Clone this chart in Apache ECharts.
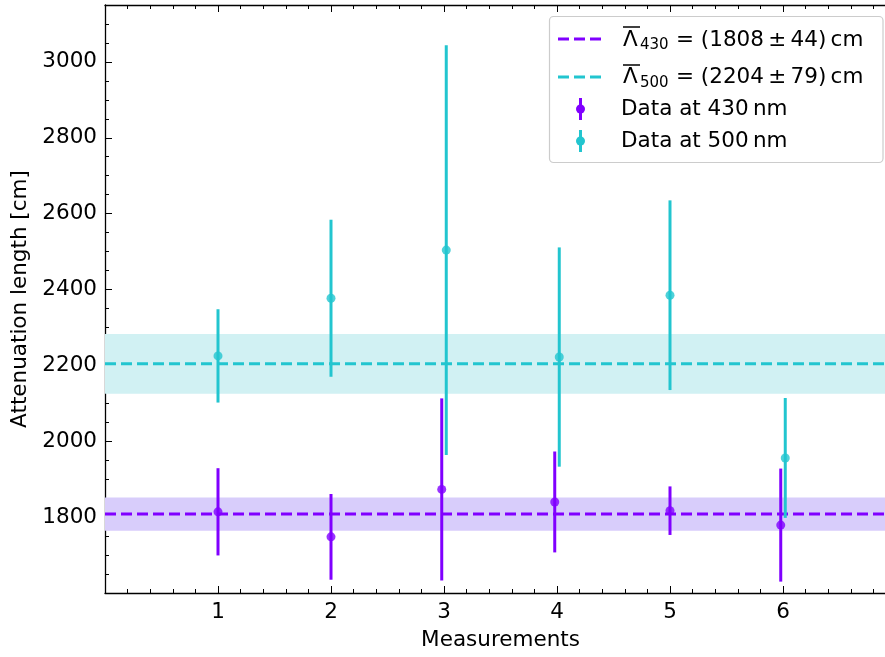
<!DOCTYPE html>
<html><head><meta charset="utf-8">
<script src="https://cdn.jsdelivr.net/npm/echarts@6/dist/echarts.min.js"></script>
<style>html,body{margin:0;padding:0;background:#fff}#c{width:885px;height:657px}</style>
</head><body><div id="c"></div>
<script>
// ---- data ----
const x430 = [1, 2, 2.98, 3.98, 5, 5.98];
const val430 = [1814, 1748, 1873, 1840, 1817, 1779];
const err430 = [115, 113, 240, 133, 64, 149];
const x500 = [1, 2, 3.02, 4.02, 5, 6.02];
const val500 = [2225, 2377, 2504, 2222, 2385, 1956];
const err500 = [123, 207, 540, 289, 250, 158];
const mean430 = 1808, sigma430 = 44;
const mean500 = 2204, sigma500 = 79;
const xRange = [0, 7];
const yRange = [1600, 3150];

const C430 = '#8000ff';
const C500 = '#22c5cf';
const F = 'DejaVu Sans';
const FS = 21.5;

const d430 = x430.map((x, i) => [x, val430[i], err430[i]]);
const d500 = x500.map((x, i) => [x, val500[i], err500[i]]);

function errRender(color) {
  return function (params, api) {
    const x = api.value(0), y = api.value(1), e = api.value(2);
    const p1 = api.coord([x, y + e]), p2 = api.coord([x, y - e]);
    return { type: 'line', shape: { x1: p1[0], y1: p1[1], x2: p2[0], y2: p2[1] },
      style: { stroke: color, lineWidth: 3 } };
  };
}

const axisCommon = {
  axisLine: { show: true, onZero: false, lineStyle: { color: '#000', width: 1.3 } },
  splitLine: { show: false },
};

const chart = echarts.init(document.getElementById('c'), null, { renderer: 'canvas' });
const option = {
  animation: false,
  backgroundColor: '#fff',
  grid: { left: 105, top: 5, width: 791, height: 588, containLabel: false, outerBoundsMode: 'none' },
  xAxis: [
    Object.assign({
      type: 'value', min: xRange[0], max: xRange[1], interval: 1, position: 'bottom',
      name: 'Measurements', nameLocation: 'middle', nameGap: 36,
      nameTextStyle: { fontFamily: F, fontSize: FS, color: '#000' },
      axisTick: { show: true, inside: true, length: 7, lineStyle: { color: '#000', width: 1 } },
      minorTick: { show: true, splitNumber: 5, length: 4, lineStyle: { color: '#000', width: 1 } },
      axisLabel: { fontFamily: F, fontSize: FS, color: '#000', margin: 8,
        formatter: v => (v === xRange[0] || v === xRange[1]) ? '' : String(v) },
    }, axisCommon),
    Object.assign({
      type: 'value', min: xRange[0], max: xRange[1], interval: 1, position: 'top',
      axisTick: { show: true, inside: true, length: 7, lineStyle: { color: '#000', width: 1 } },
      minorTick: { show: true, splitNumber: 5, length: 4, lineStyle: { color: '#000', width: 1 } },
      axisLabel: { show: false },
    }, axisCommon),
  ],
  yAxis: [
    Object.assign({
      type: 'value', min: yRange[0], max: yRange[1], interval: 200, position: 'left',
      name: 'Attenuation length [cm]', nameLocation: 'middle', nameGap: 70,
      nameTextStyle: { fontFamily: F, fontSize: FS, color: '#000' },
      axisTick: { show: true, inside: true, length: 7, lineStyle: { color: '#000', width: 1 } },
      minorTick: { show: true, splitNumber: 4, length: 4, lineStyle: { color: '#000', width: 1 } },
      axisLabel: { fontFamily: F, fontSize: FS, color: '#000', margin: 8, showMinLabel: false, showMaxLabel: false,
        formatter: v => String(v) },
    }, axisCommon),
    Object.assign({
      type: 'value', min: yRange[0], max: yRange[1], interval: 200, position: 'right',
      axisTick: { show: true, inside: true, length: 7, lineStyle: { color: '#000', width: 1 } },
      minorTick: { show: true, splitNumber: 4, length: 4, lineStyle: { color: '#000', width: 1 } },
      axisLabel: { show: false },
    }, axisCommon),
  ],
  series: [
    {
      type: 'line', name: 'mean430', xAxisIndex: 0, yAxisIndex: 0, z: 3,
      data: [[xRange[0], mean430], [xRange[1], mean430]], symbol: 'none',
      lineStyle: { color: C430, width: 3, type: [11, 5] },
      markArea: { silent: true, z: 1, itemStyle: { color: '#d8cdfb' },
        data: [[{ yAxis: mean430 - sigma430 }, { yAxis: mean430 + sigma430 }]] },
    },
    {
      type: 'line', name: 'mean500', xAxisIndex: 0, yAxisIndex: 0, z: 3,
      data: [[xRange[0], mean500], [xRange[1], mean500]], symbol: 'none',
      lineStyle: { color: C500, width: 3, type: [11, 5] },
      markArea: { silent: true, z: 1, itemStyle: { color: '#d1f1f3' },
        data: [[{ yAxis: mean500 - sigma500 }, { yAxis: mean500 + sigma500 }]] },
    },
    { type: 'custom', name: 'err430', z: 5, data: d430, renderItem: errRender(C430), encode: { x: 0, y: 1 } },
    { type: 'scatter', name: 'pt430', z: 6, data: d430, symbol: 'circle', symbolSize: 9,
      itemStyle: { color: C430 }, encode: { x: 0, y: 1 } },
    { type: 'custom', name: 'err500', z: 5, data: d500, renderItem: errRender(C500), encode: { x: 0, y: 1 } },
    { type: 'scatter', name: 'pt500', z: 6, data: d500, symbol: 'circle', symbolSize: 9,
      itemStyle: { color: C500 }, encode: { x: 0, y: 1 } },
  ],
  graphic: [
    { type: 'rect', z: 100, shape: { x: 549.5, y: 16.5, width: 333.5, height: 146, r: 4 },
      style: { fill: 'rgba(255,255,255,0.85)', stroke: '#cccccc', lineWidth: 1.2 } },
    // entry 1
    { type: 'line', z: 101, shape: { x1: 558, y1: 39, x2: 603, y2: 39 },
      style: { stroke: C430, lineWidth: 3, lineDash: [11, 5] } },
    { type: 'line', z: 101, shape: { x1: 623, y1: 27, x2: 640, y2: 27 }, style: { stroke: '#000', lineWidth: 1.5 } },
    { type: 'text', z: 101, x: 623, y: 40, style: { text: 'Λ', font: `${FS}px "${F}"`, fill: '#000', textVerticalAlign: 'middle' } },
    { type: 'text', z: 101, x: 640, y: 45, style: { text: '430', font: `15px "${F}"`, fill: '#000', textVerticalAlign: 'middle' } },
    { type: 'text', z: 101, x: 676, y: 40, style: { text: '= (1808\u2009±\u200944)\u2009cm', font: `${FS}px "${F}"`, fill: '#000', textVerticalAlign: 'middle' } },
    // entry 2
    { type: 'line', z: 101, shape: { x1: 558, y1: 77, x2: 603, y2: 77 },
      style: { stroke: C500, lineWidth: 3, lineDash: [11, 5] } },
    { type: 'line', z: 101, shape: { x1: 623, y1: 65, x2: 640, y2: 65 }, style: { stroke: '#000', lineWidth: 1.5 } },
    { type: 'text', z: 101, x: 623, y: 77, style: { text: 'Λ', font: `${FS}px "${F}"`, fill: '#000', textVerticalAlign: 'middle' } },
    { type: 'text', z: 101, x: 640, y: 83, style: { text: '500', font: `15px "${F}"`, fill: '#000', textVerticalAlign: 'middle' } },
    { type: 'text', z: 101, x: 676, y: 77, style: { text: '= (2204\u2009±\u200979)\u2009cm', font: `${FS}px "${F}"`, fill: '#000', textVerticalAlign: 'middle' } },
    // entry 3
    { type: 'line', z: 101, shape: { x1: 580.5, y1: 98, x2: 580.5, y2: 120 }, style: { stroke: C430, lineWidth: 3 } },
    { type: 'circle', z: 101, shape: { cx: 580.5, cy: 109, r: 4.5 }, style: { fill: C430 } },
    { type: 'text', z: 101, x: 621, y: 109, style: { text: 'Data at 430\u2009nm', font: `${FS}px "${F}"`, fill: '#000', textVerticalAlign: 'middle' } },
    // entry 4
    { type: 'line', z: 101, shape: { x1: 580.5, y1: 130, x2: 580.5, y2: 152 }, style: { stroke: C500, lineWidth: 3 } },
    { type: 'circle', z: 101, shape: { cx: 580.5, cy: 141, r: 4.5 }, style: { fill: C500 } },
    { type: 'text', z: 101, x: 621, y: 141, style: { text: 'Data at 500\u2009nm', font: `${FS}px "${F}"`, fill: '#000', textVerticalAlign: 'middle' } },
  ],
};
chart.setOption(option);
</script>
</body></html>
